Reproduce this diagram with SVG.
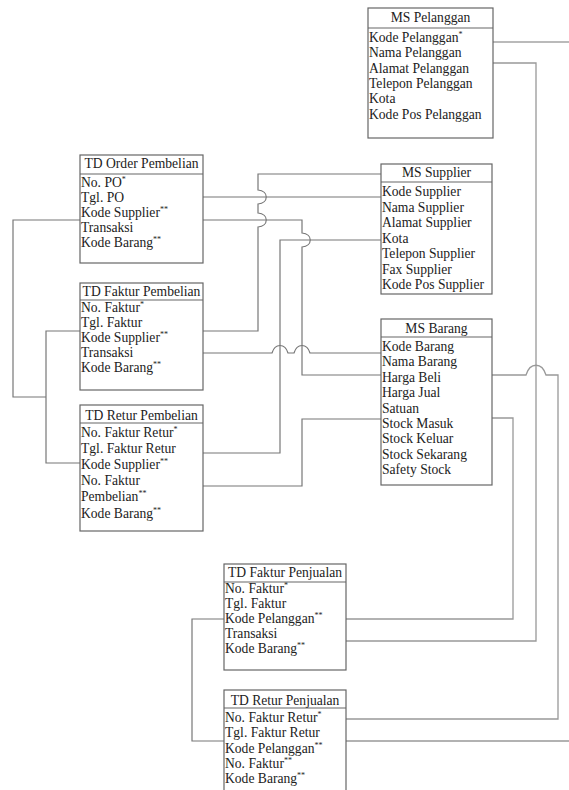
<svg xmlns="http://www.w3.org/2000/svg" width="569" height="790" viewBox="0 0 569 790">
<style>
.box{fill:#fff;stroke:#666;stroke-width:1.2}
.sep{stroke:#666;stroke-width:1.2}
.t{font-family:"Liberation Serif","Times New Roman",serif;font-size:13.6px;fill:#222}
.ttl{text-anchor:middle}
.sup{font-size:8px}
.c{fill:none;stroke:#777;stroke-width:1.2}
.cl{fill:none;stroke:#999;stroke-width:1.3}
</style>
<rect width="569" height="790" fill="#fff"/>
<g id="connectors">
<path class="c" d="M493,42 H569"/>
<path class="cl" d="M493,63 H536 V641 H346"/>
<path class="cl" d="M346,619 H513 V418 H492"/>
<path class="cl" d="M492,375 H526 C530,362 542,362 546,375 H558 V719 H346"/>
<path class="cl" d="M346,741 H569"/>
<path class="c" d="M224,619 H192 V741 H224"/>
<path class="c" d="M80,220 H13 V397 H46"/>
<path class="c" d="M80,331 H46 V463 H80"/>
<path class="c" d="M203,197 H381"/>
<path class="c" d="M203,220 H302 V233 C313,234 313,246 302,247 V375 H381"/>
<path class="c" d="M381,174 H258 V190 C269,191 269,203 258,204 V213 C269,214 269,226 258,227 V331 H203"/>
<path class="c" d="M381,240 H280 V453 H203"/>
<path class="c" d="M203,353 H272 C275,343 285,343 288,353 H294 C297,343 307,343 310,353 H381"/>
<path class="c" d="M203,486 H302 V419 H381"/>
</g>
<g id="ms-pelanggan">
<rect class="box" x="368" y="8" width="125" height="130"/>
<line class="sep" x1="368" y1="28" x2="493" y2="28"/>
<text class="t ttl" x="430.5" y="22">MS Pelanggan</text>
<text class="t" x="369" y="42">Kode Pelanggan<tspan class="sup" dy="-5">*</tspan></text>
<text class="t" x="369" y="57.3">Nama Pelanggan</text>
<text class="t" x="369" y="72.6">Alamat Pelanggan</text>
<text class="t" x="369" y="87.9">Telepon Pelanggan</text>
<text class="t" x="369" y="103.2">Kota</text>
<text class="t" x="369" y="118.5">Kode Pos Pelanggan</text>
</g>
<g id="td-order-pembelian">
<rect class="box" x="80" y="155" width="123" height="108"/>
<line class="sep" x1="80" y1="174" x2="203" y2="174"/>
<text class="t ttl" x="141.5" y="168">TD Order Pembelian</text>
<text class="t" x="81" y="187">No. PO<tspan class="sup" dy="-5">*</tspan></text>
<text class="t" x="81" y="202">Tgl. PO</text>
<text class="t" x="81" y="217">Kode Supplier<tspan class="sup" dy="-5">**</tspan></text>
<text class="t" x="81" y="232">Transaksi</text>
<text class="t" x="81" y="247">Kode Barang<tspan class="sup" dy="-5">**</tspan></text>
</g>
<g id="ms-supplier">
<rect class="box" x="381" y="164" width="111" height="130"/>
<line class="sep" x1="381" y1="182" x2="492" y2="182"/>
<text class="t ttl" x="436.5" y="177">MS Supplier</text>
<text class="t" x="382" y="196">Kode Supplier</text>
<text class="t" x="382" y="211.5">Nama Supplier</text>
<text class="t" x="382" y="227">Alamat Supplier</text>
<text class="t" x="382" y="242.5">Kota</text>
<text class="t" x="382" y="258">Telepon Supplier</text>
<text class="t" x="382" y="273.5">Fax Supplier</text>
<text class="t" x="382" y="289">Kode Pos Supplier</text>
</g>
<g id="td-faktur-pembelian">
<rect class="box" x="80" y="283" width="123" height="107"/>
<line class="sep" x1="80" y1="300" x2="203" y2="300"/>
<text class="t ttl" x="141.5" y="296">TD Faktur Pembelian</text>
<text class="t" x="81" y="312">No. Faktur<tspan class="sup" dy="-5">*</tspan></text>
<text class="t" x="81" y="327">Tgl. Faktur</text>
<text class="t" x="81" y="342">Kode Supplier<tspan class="sup" dy="-5">**</tspan></text>
<text class="t" x="81" y="357">Transaksi</text>
<text class="t" x="81" y="372">Kode Barang<tspan class="sup" dy="-5">**</tspan></text>
</g>
<g id="ms-barang">
<rect class="box" x="381" y="319" width="111" height="166"/>
<line class="sep" x1="381" y1="337" x2="492" y2="337"/>
<text class="t ttl" x="436.5" y="333">MS Barang</text>
<text class="t" x="382" y="351">Kode Barang</text>
<text class="t" x="382" y="366.4">Nama Barang</text>
<text class="t" x="382" y="381.8">Harga Beli</text>
<text class="t" x="382" y="397.2">Harga Jual</text>
<text class="t" x="382" y="412.6">Satuan</text>
<text class="t" x="382" y="428">Stock Masuk</text>
<text class="t" x="382" y="443.4">Stock Keluar</text>
<text class="t" x="382" y="458.8">Stock Sekarang</text>
<text class="t" x="382" y="474.2">Safety Stock</text>
</g>
<g id="td-retur-pembelian">
<rect class="box" x="80" y="405" width="123" height="126"/>
<line class="sep" x1="80" y1="423" x2="203" y2="423"/>
<text class="t ttl" x="141.5" y="420">TD Retur Pembelian</text>
<text class="t" x="81" y="437">No. Faktur Retur<tspan class="sup" dy="-5">*</tspan></text>
<text class="t" x="81" y="453">Tgl. Faktur Retur</text>
<text class="t" x="81" y="469">Kode Supplier<tspan class="sup" dy="-5">**</tspan></text>
<text class="t" x="81" y="485">No. Faktur</text>
<text class="t" x="81" y="501">Pembelian<tspan class="sup" dy="-5">**</tspan></text>
<text class="t" x="81" y="518">Kode Barang<tspan class="sup" dy="-5">**</tspan></text>
</g>
<g id="td-faktur-penjualan">
<rect class="box" x="224" y="564" width="122" height="106"/>
<line class="sep" x1="224" y1="582" x2="346" y2="582"/>
<text class="t ttl" x="285" y="577">TD Faktur Penjualan</text>
<text class="t" x="225" y="593">No. Faktur<tspan class="sup" dy="-5">*</tspan></text>
<text class="t" x="225" y="608">Tgl. Faktur</text>
<text class="t" x="225" y="623">Kode Pelanggan<tspan class="sup" dy="-5">**</tspan></text>
<text class="t" x="225" y="638">Transaksi</text>
<text class="t" x="225" y="653">Kode Barang<tspan class="sup" dy="-5">**</tspan></text>
</g>
<g id="td-retur-penjualan">
<rect class="box" x="224" y="690" width="122" height="110"/>
<line class="sep" x1="224" y1="708" x2="346" y2="708"/>
<text class="t ttl" x="285" y="705">TD Retur Penjualan</text>
<text class="t" x="225" y="722">No. Faktur Retur<tspan class="sup" dy="-5">*</tspan></text>
<text class="t" x="225" y="737.3">Tgl. Faktur Retur</text>
<text class="t" x="225" y="752.6">Kode Pelanggan<tspan class="sup" dy="-5">**</tspan></text>
<text class="t" x="225" y="767.9">No. Faktur<tspan class="sup" dy="-5">**</tspan></text>
<text class="t" x="225" y="783.2">Kode Barang<tspan class="sup" dy="-5">**</tspan></text>
</g>
</svg>
